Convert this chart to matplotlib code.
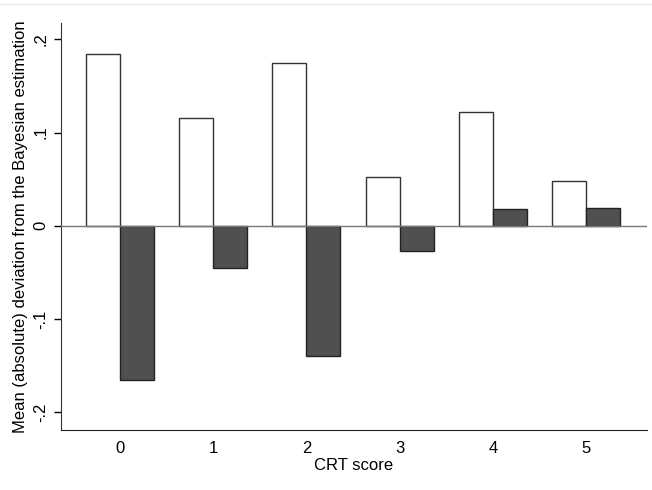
import matplotlib
matplotlib.use("Agg")
import matplotlib.pyplot as plt
import numpy as np
from matplotlib.lines import Line2D

plt.rcParams['font.family'] = ['Liberation Sans', 'DejaVu Sans']

categories = [0, 1, 2, 3, 4, 5]
absolute_dev = [0.184, 0.116, 0.175, 0.0525, 0.122, 0.048]
signed_dev = [-0.165, -0.045, -0.140, -0.027, 0.018, 0.019]
ytick_vals = [-0.2, -0.1, 0.0, 0.1, 0.2]
ytick_labels = ['-.2', '-.1', '0', '.1', '.2']

fig = plt.figure(figsize=(6.52, 4.90), dpi=100)
ax = fig.add_axes([0.0936, 0.1224, 0.8984, 0.8306])

x = np.array(categories, dtype=float)
w = 0.365
ax.bar(x - w / 2, absolute_dev, width=w, color='white', edgecolor='#333333', linewidth=1.0, zorder=2)
ax.bar(x + w / 2, signed_dev, width=w, color='#505050', edgecolor='#222222', linewidth=1.0, zorder=2)
ax.axhline(0, color='#777777', linewidth=1.0, zorder=3)

ax.set_xlim(-0.63, 5.65)
ax.set_ylim(-0.219, 0.2175)
ax.set_yticks(ytick_vals)
ax.set_yticklabels(ytick_labels, rotation=90, va='center', fontsize=12)
ax.set_xticks(categories)
ax.set_xticklabels([str(c) for c in categories], fontsize=12)
ax.tick_params(axis='x', length=0, pad=8)
ax.tick_params(axis='y', length=5, width=1, pad=4)
ax.spines['top'].set_visible(False)
ax.spines['right'].set_visible(False)
ax.spines['left'].set_color('#333333')
ax.spines['bottom'].set_color('#222222')
ax.set_xlabel('CRT score', fontsize=12, labelpad=1)
ax.set_ylabel('Mean (absolute) deviation from the Bayesian estimation', fontsize=12, labelpad=4)

fig.add_artist(Line2D([0, 1], [0.992, 0.992], color='#e6ecf0', linewidth=1, transform=fig.transFigure))

fig.savefig('out.png', dpi=100)
